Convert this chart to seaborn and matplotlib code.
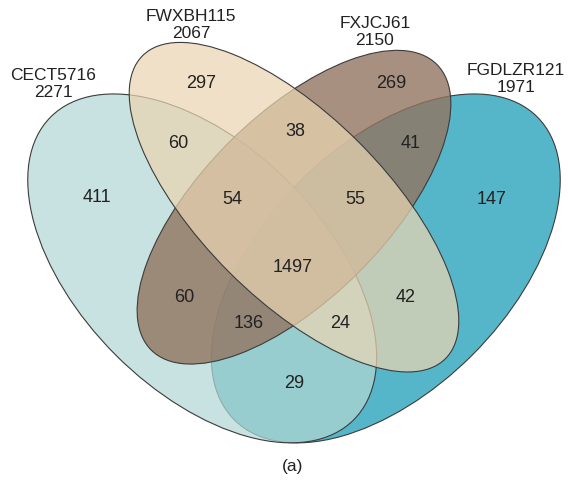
import matplotlib
matplotlib.use("Agg")
import matplotlib.pyplot as plt
from matplotlib.patches import Ellipse
import seaborn as sns

# Set names and total sizes
set_names = ["CECT5716", "FWXBH115", "FXJCJ61", "FGDLZR121"]
set_totals = [2271, 2067, 2150, 1971]

# Region memberships (A=CECT5716, B=FWXBH115, C=FXJCJ61, D=FGDLZR121) and counts
region_keys = ["A", "B", "C", "D", "AB", "BC", "CD", "AC", "BD", "AD",
               "ABC", "BCD", "ACD", "ABD", "ABCD"]
region_counts = [411, 297, 269, 147, 60, 38, 41, 60, 42, 29,
                 54, 55, 136, 24, 1497]

sns.set_theme(style="white")
plt.rcParams["font.family"] = ["Liberation Sans", "DejaVu Sans"]

W, H = 568, 483
fig = plt.figure(figsize=(W / 100, H / 100), dpi=100)
ax = fig.add_axes([0, 0, 1, 1])
ax.set_xlim(0, W)
ax.set_ylim(H, 0)
ax.set_axis_off()

# Layout: classic four-ellipse Venn geometry in pixel units
u = 612.0
cx0, cy0 = 294.0, 268.4
ellipses = {
    "A": dict(xy=(cx0 - 0.15 * u, cy0), a=0.35 * u, b=0.20 * u, angle=45),
    "B": dict(xy=(cx0, cy0 - 0.10 * u), a=0.35 * u, b=0.15 * u, angle=45),
    "C": dict(xy=(cx0, cy0 - 0.10 * u), a=0.33 * u, b=0.15 * u, angle=-45),
    "D": dict(xy=(cx0 + 0.15 * u, cy0), a=0.35 * u, b=0.20 * u, angle=-45),
}
fills = {"A": "#b2d7d4", "B": "#ead5b2", "C": "#927460", "D": "#0f98b2"}
alphas = {"A": 0.72, "B": 0.72, "C": 0.8, "D": 0.7}
draw_order = ["D", "A", "C", "B"]

# Each set: translucent fill, then its own outline; later fills soften earlier lines
for k in draw_order:
    e = ellipses[k]
    ax.add_patch(Ellipse(e["xy"], 2 * e["a"], 2 * e["b"], angle=e["angle"],
                         facecolor=fills[k], alpha=alphas[k], edgecolor="none"))
    ax.add_patch(Ellipse(e["xy"], 2 * e["a"], 2 * e["b"], angle=e["angle"],
                         facecolor="none", edgecolor="#3c3c3c", lw=0.8))

# Region label anchor points
label_pos = {
    "A": (97, 197), "B": (201, 83), "C": (391, 83), "D": (492, 199),
    "AB": (178, 144), "BC": (295, 131), "CD": (411, 144), "AC": (184, 298),
    "BD": (406, 298), "AD": (294, 383), "ABC": (232, 199), "BCD": (355, 199),
    "ACD": (249, 323), "ABD": (340, 323), "ABCD": (293, 267),
}
for key, n in zip(region_keys, region_counts):
    x, y = label_pos[key]
    ax.text(x, y, f"{n}", ha="center", va="center", fontsize=13, color="#222222")

name_pos = [(53, 84), (191, 25), (375, 32), (516, 79)]
for name, total, (x, y) in zip(set_names, set_totals, name_pos):
    ax.text(x, y, f"{name}\n{total}", ha="center", va="center", fontsize=12.5,
            color="#222222", linespacing=1.15)

ax.text(293, 466, "(a)", ha="center", va="center", fontsize=12.5, color="#222222")

fig.savefig("out.png", dpi=100, facecolor="white")
